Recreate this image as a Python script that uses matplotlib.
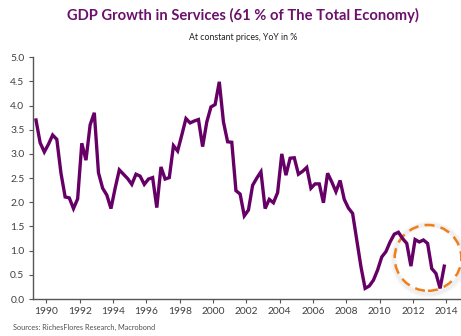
import numpy as np
import matplotlib.pyplot as plt
from matplotlib.patches import Ellipse

# quarterly services GDP growth, YoY %, 1989 Q2 .. 2013 Q4
start_year = 1989
start_quarter = 2
growth = [
    3.70, 3.23, 3.04,
    3.20, 3.39, 3.30, 2.60,
    2.11, 2.09, 1.87, 2.07,
    3.22, 2.87, 3.60, 3.85,
    2.61, 2.29, 2.15, 1.87,
    2.29, 2.67, 2.58, 2.49,
    2.37, 2.58, 2.54, 2.37,
    2.48, 2.51, 1.89, 2.73,
    2.48, 2.51, 3.17, 3.06,
    3.39, 3.73, 3.64, 3.68,
    3.71, 3.15, 3.66, 3.97,
    4.02, 4.49, 3.66, 3.25,
    3.24, 2.24, 2.17, 1.72,
    1.84, 2.35, 2.50, 2.63,
    1.87, 2.06, 1.99, 2.20,
    3.00, 2.56, 2.91, 2.92,
    2.58, 2.64, 2.72, 2.29,
    2.38, 2.38, 1.99, 2.60,
    2.42, 2.22, 2.45, 2.06,
    1.88, 1.77, 1.22, 0.67,
    0.22, 0.27, 0.39, 0.60,
    0.87, 0.98, 1.18, 1.34,
    1.38, 1.25, 1.15, 0.68,
    1.23, 1.18, 1.22, 1.15,
    0.63, 0.53, 0.22, 0.68,
]
x_ticks = list(range(1990, 2015, 2))
y_ticks = [0.0, 0.5, 1.0, 1.5, 2.0, 2.5, 3.0, 3.5, 4.0, 4.5, 5.0]

# quarter mid-points as decimal years
t = start_year + (start_quarter - 1) * 0.25 + 0.125 + 0.25 * np.arange(len(growth))

plt.rcParams['font.family'] = ['Lato', 'DejaVu Sans']

fig = plt.figure(figsize=(4.61, 3.36), dpi=100)
ax = fig.add_axes([0.071, 0.110, 0.929, 0.720])

ax.plot(t, growth, color='#660066', linewidth=2.4, solid_joinstyle='miter')

# highlight circle around the latest quarters, with a soft shadow
cx, cy, w, h = 2012.9, 0.85, 4.0, 1.36
for k, a in zip([1.09, 1.06, 1.03], [0.03, 0.045, 0.06]):
    ax.add_patch(Ellipse((cx + 0.05, cy - 0.03), w * k, h * k, facecolor='none',
                         edgecolor='#888888', linewidth=3.5, alpha=a, clip_on=False))
ax.add_patch(Ellipse((cx, cy), w, h, facecolor='none', edgecolor='#F07F1A',
                     linewidth=1.8, linestyle=(0, (4, 2.5)), clip_on=False))

ax.set_xlim(1989.18, 2014.88)
ax.set_ylim(0, 5.0)
ax.set_xticks(x_ticks)
ax.set_yticks(y_ticks)
ax.set_yticklabels([f'{v:.1f}' for v in y_ticks])

for s in ['top', 'right']:
    ax.spines[s].set_visible(False)
for s in ['left', 'bottom']:
    ax.spines[s].set_color('#555555')
    ax.spines[s].set_linewidth(1.0)
ax.tick_params(axis='both', colors='#555555', labelcolor='#404040', labelsize=7.4,
               length=3, width=0.8, pad=3)

fig.text(0.527, 0.955, 'GDP Growth in Services (61 % of The Total Economy)',
         ha='center', va='center', fontsize=10.6, fontweight='bold', color='#6B106B')
fig.text(0.527, 0.887, 'At constant prices, YoY in %',
         ha='center', va='center', fontsize=6.3, color='#202020')
fig.text(0.028, 0.024, 'Sources: RichesFlores Research, Macrobond',
         ha='left', va='center', fontsize=5.3, color='#505050')

fig.savefig('out.png', dpi=100)
